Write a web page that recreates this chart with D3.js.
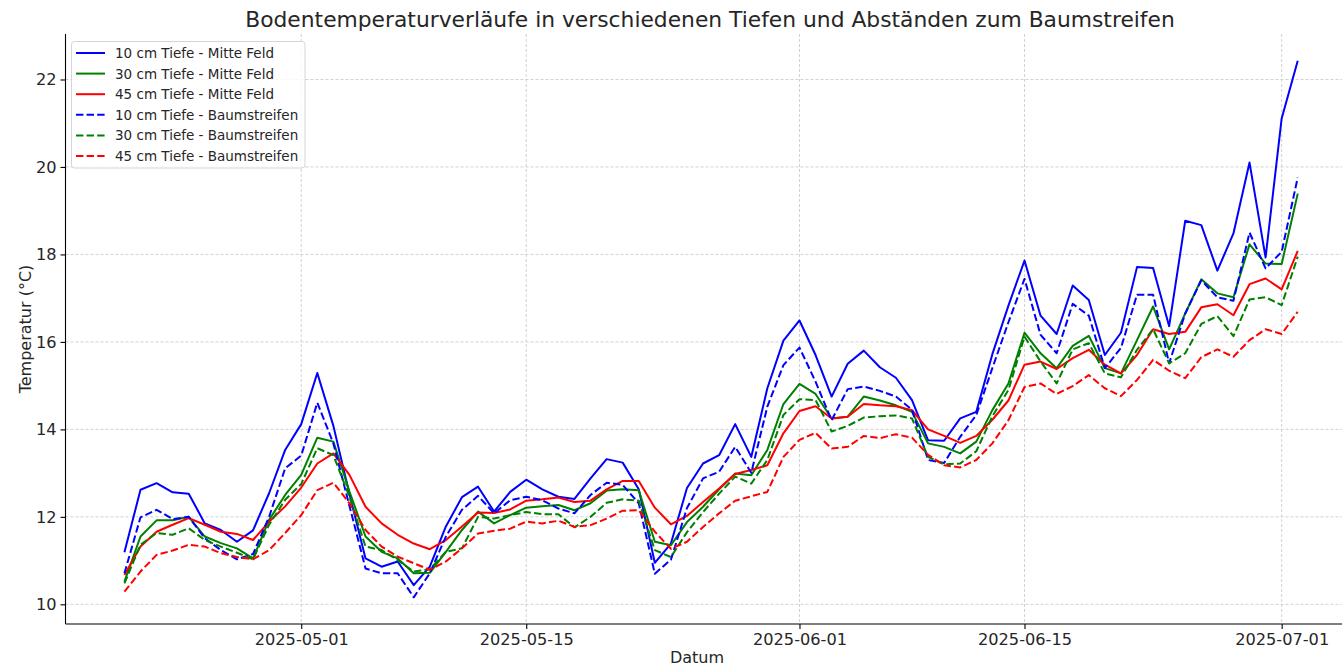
<!DOCTYPE html>
<html>
<head>
<meta charset="utf-8">
<script src="https://cdn.jsdelivr.net/npm/d3@7"></script>
<style>
  body { margin: 0; background: #fff; }
  text { font-family: "DejaVu Sans", sans-serif; fill: #262626; }
</style>
</head>
<body>
<script>
// daily readings, 2025-04-20 .. 2025-07-02
var startDay = "2025-04-20";

var t10Mitte = [11.19, 12.62, 12.77, 12.56, 12.53, 11.85, 11.70, 11.43, 11.69, 12.54,
  13.53, 14.12, 15.29, 14.08, 12.52, 11.05, 10.86, 10.98, 10.44, 10.86,
  11.78, 12.45, 12.69, 12.12, 12.57, 12.85, 12.63, 12.46, 12.41, 12.88,
  13.32, 13.24, 12.63, 10.95, 11.39, 12.66, 13.22, 13.41, 14.12, 13.37,
  14.94, 16.03, 16.49, 15.70, 14.75, 15.50, 15.80, 15.42, 15.18, 14.67,
  13.75, 13.74, 14.25, 14.40, 15.72, 16.83, 17.86, 16.60, 16.18, 17.29,
  16.96, 15.70, 16.21, 17.71, 17.69, 16.36, 18.77, 18.67, 17.63, 18.48,
  20.10, 17.93, 21.11, 22.43];

var t30Mitte = [10.52, 11.55, 11.92, 11.92, 12.00, 11.55, 11.40, 11.28, 11.05, 11.93,
  12.50, 12.96, 13.81, 13.72, 12.58, 11.55, 11.20, 11.05, 10.71, 10.72,
  11.20, 11.70, 12.12, 11.85, 12.04, 12.21, 12.24, 12.27, 12.15, 12.31,
  12.60, 12.63, 12.61, 11.43, 11.35, 11.88, 12.23, 12.63, 12.99, 12.95,
  13.53, 14.58, 15.04, 14.81, 14.25, 14.29, 14.75, 14.66, 14.55, 14.40,
  13.68, 13.60, 13.45, 13.72, 14.44, 15.05, 16.21, 15.74, 15.40, 15.91,
  16.14, 15.40, 15.28, 16.04, 16.81, 15.83, 16.65, 17.43, 17.11, 17.02,
  18.23, 17.79, 17.78, 19.39];

var t45Mitte = [10.67, 11.32, 11.66, 11.82, 11.97, 11.82, 11.66, 11.61, 11.47, 11.89,
  12.24, 12.67, 13.22, 13.45, 12.96, 12.23, 11.85, 11.59, 11.39, 11.26,
  11.47, 11.78, 12.10, 12.09, 12.17, 12.37, 12.40, 12.44, 12.34, 12.37,
  12.63, 12.82, 12.82, 12.21, 11.83, 12.02, 12.34, 12.65, 12.98, 13.07,
  13.18, 13.91, 14.42, 14.53, 14.25, 14.29, 14.58, 14.55, 14.53, 14.44,
  14.00, 13.85, 13.69, 13.85, 14.22, 14.66, 15.48, 15.55, 15.38, 15.63,
  15.82, 15.48, 15.28, 15.70, 16.29, 16.18, 16.23, 16.79, 16.86, 16.61,
  17.32, 17.45, 17.20, 18.08];

var t10Baum = [10.71, 11.99, 12.16, 11.95, 12.00, 11.51, 11.24, 11.03, 11.15, 12.00,
  13.11, 13.40, 14.61, 13.68, 12.25, 10.82, 10.71, 10.71, 10.16, 10.71,
  11.55, 12.16, 12.48, 12.08, 12.38, 12.46, 12.38, 12.19, 12.08, 12.50,
  12.78, 12.73, 12.31, 10.70, 11.02, 12.20, 12.88, 13.03, 13.60, 13.01,
  14.52, 15.47, 15.87, 15.09, 14.21, 14.92, 14.98, 14.88, 14.75, 14.45,
  13.30, 13.23, 13.83, 14.33, 15.40, 16.45, 17.44, 16.16, 15.74, 16.87,
  16.60, 15.40, 15.86, 17.08, 17.08, 15.51, 16.65, 17.41, 17.02, 16.94,
  18.50, 17.68, 18.06, 19.76];

var t30Baum = [10.48, 11.36, 11.63, 11.59, 11.74, 11.47, 11.32, 11.18, 11.03, 11.82,
  12.39, 12.75, 13.57, 13.41, 12.46, 11.32, 11.24, 11.01, 10.75, 10.80,
  11.20, 11.28, 12.00, 11.96, 12.04, 12.11, 12.06, 12.06, 11.76, 12.00,
  12.32, 12.40, 12.37, 11.24, 11.08, 11.65, 12.11, 12.53, 12.92, 12.76,
  13.30, 14.33, 14.69, 14.67, 13.95, 14.08, 14.27, 14.30, 14.32, 14.25,
  13.37, 13.20, 13.22, 13.50, 14.30, 14.90, 16.12, 15.55, 15.05, 15.83,
  15.97, 15.28, 15.19, 15.82, 16.29, 15.51, 15.74, 16.41, 16.59, 16.13,
  16.97, 17.02, 16.84, 17.95];

var t45Baum = [10.29, 10.75, 11.13, 11.23, 11.36, 11.32, 11.17, 11.08, 11.03, 11.24,
  11.63, 12.04, 12.61, 12.78, 12.31, 11.70, 11.32, 11.09, 10.94, 10.79,
  10.98, 11.28, 11.62, 11.68, 11.73, 11.89, 11.85, 11.91, 11.77, 11.81,
  11.96, 12.14, 12.15, 11.66, 11.27, 11.43, 11.77, 12.08, 12.37, 12.47,
  12.57, 13.37, 13.76, 13.92, 13.56, 13.60, 13.85, 13.80, 13.89, 13.81,
  13.42, 13.18, 13.13, 13.30, 13.68, 14.21, 14.97, 15.05, 14.81, 14.99,
  15.24, 14.94, 14.76, 15.13, 15.59, 15.34, 15.17, 15.65, 15.83, 15.66,
  16.04, 16.29, 16.18, 16.69];

var seriesNames = ["10 cm Tiefe - Mitte Feld", "30 cm Tiefe - Mitte Feld", "45 cm Tiefe - Mitte Feld",
  "10 cm Tiefe - Baumstreifen", "30 cm Tiefe - Baumstreifen", "45 cm Tiefe - Baumstreifen"];
var seriesValues = [t10Mitte, t30Mitte, t45Mitte, t10Baum, t30Baum, t45Baum];
var seriesColors = ["blue", "green", "red", "blue", "green", "red"];
var seriesDashed = [false, false, false, true, true, true];

var xTickLabels = ["2025-05-01", "2025-05-15", "2025-06-01", "2025-06-15", "2025-07-01"];
var yTicks = [10, 12, 14, 16, 18, 20, 22];

var width = 1342,
    height = 666;

var parse = d3.timeParse("%Y-%m-%d");
var day0 = parse(startDay);
var dates = t10Mitte.map(function(v, i) { return d3.timeDay.offset(day0, i); });

var svg = d3.select("body").append("svg")
    .attr("width", width)
    .attr("height", height);

// plot area (right edge runs past the picture, as in the original)
var plotLeft = 65.5, plotTop = 34, plotBottom = 624, plotRight = 1356;

var pad = 73 * 0.05;
var x = d3.scaleTime()
    .domain([d3.timeHour.offset(dates[0], -pad * 24), d3.timeHour.offset(dates[dates.length - 1], pad * 24)])
    .range([plotLeft, plotRight]);

var y = d3.scaleLinear()
    .domain([9.55, 23.04])
    .range([plotBottom, plotTop]);

// grid
svg.append("g").selectAll("line")
    .data(yTicks)
  .enter().append("line")
    .attr("x1", plotLeft).attr("x2", plotRight)
    .attr("y1", function(d) { return y(d); })
    .attr("y2", function(d) { return y(d); })
    .attr("stroke", "#cccccc")
    .attr("stroke-width", 0.9)
    .attr("stroke-dasharray", "3,2");

svg.append("g").selectAll("line")
    .data(xTickLabels)
  .enter().append("line")
    .attr("x1", function(d) { return x(parse(d)); })
    .attr("x2", function(d) { return x(parse(d)); })
    .attr("y1", plotTop).attr("y2", plotBottom)
    .attr("stroke", "#cccccc")
    .attr("stroke-width", 0.9)
    .attr("stroke-dasharray", "3,2");

// lines
var line = d3.line()
    .x(function(d, i) { return x(dates[i]); })
    .y(function(d) { return y(d); });

seriesValues.forEach(function(vals, k) {
  svg.append("path")
      .datum(vals)
      .attr("d", line)
      .attr("fill", "none")
      .attr("stroke", seriesColors[k])
      .attr("stroke-width", 2)
      .attr("stroke-linejoin", "round")
      .attr("stroke-dasharray", seriesDashed[k] ? "7.4,3.2" : null);
});

// axes
var xAxis = d3.axisBottom(x)
    .tickValues(xTickLabels.map(parse))
    .tickFormat(d3.timeFormat("%Y-%m-%d"))
    .tickSize(5)
    .tickPadding(4);

var gx = svg.append("g")
    .attr("transform", "translate(0," + plotBottom + ")")
    .call(xAxis);
gx.select(".domain").attr("stroke", "#000").attr("stroke-width", 1.1)
    .attr("d", "M" + plotLeft + ",0H" + plotRight);
gx.selectAll(".tick line").attr("stroke", "#000").attr("stroke-width", 1.1);
gx.selectAll(".tick text")
    .attr("font-family", "DejaVu Sans")
    .attr("font-size", "16.2px")
    .attr("fill", "#262626");

var yAxis = d3.axisLeft(y)
    .tickValues(yTicks)
    .tickSize(5)
    .tickPadding(4);

var gy = svg.append("g")
    .attr("transform", "translate(" + plotLeft + ",0)")
    .call(yAxis);
gy.select(".domain").attr("stroke", "#000").attr("stroke-width", 1.1)
    .attr("d", "M0," + plotTop + "V" + plotBottom);
gy.selectAll(".tick line").attr("stroke", "#000").attr("stroke-width", 1.1);
gy.selectAll(".tick text")
    .attr("font-family", "DejaVu Sans")
    .attr("font-size", "16.2px")
    .attr("fill", "#262626");

// labels
svg.append("text")
    .attr("x", 710).attr("y", 27)
    .attr("text-anchor", "middle")
    .attr("font-size", "21.8px")
    .text("Bodentemperaturverläufe in verschiedenen Tiefen und Abständen zum Baumstreifen");

svg.append("text")
    .attr("x", 697).attr("y", 663)
    .attr("text-anchor", "middle")
    .attr("font-size", "16px")
    .text("Datum");

svg.append("text")
    .attr("transform", "translate(31,329) rotate(-90)")
    .attr("text-anchor", "middle")
    .attr("font-size", "16px")
    .text("Temperatur (°C)");

// legend
var legend = svg.append("g");
legend.append("rect")
    .attr("x", 71.5).attr("y", 41.5)
    .attr("width", 233.5).attr("height", 126.5)
    .attr("rx", 3)
    .attr("fill", "#fff").attr("fill-opacity", 0.8)
    .attr("stroke", "#d6d6d6");

var rows = legend.selectAll("g.row")
    .data(seriesNames)
  .enter().append("g")
    .attr("class", "row")
    .attr("transform", function(d, i) { return "translate(0," + (53 + i * 20.6) + ")"; });

rows.append("line")
    .attr("x1", 76).attr("x2", 105)
    .attr("stroke", function(d, i) { return seriesColors[i]; })
    .attr("stroke-width", 2)
    .attr("stroke-dasharray", function(d, i) { return seriesDashed[i] ? "7.4,3.2" : null; });

rows.append("text")
    .attr("x", 115).attr("y", 4.9)
    .attr("font-size", "13.5px")
    .attr("fill", "#333")
    .text(function(d) { return d; });
</script>
</body>
</html>
